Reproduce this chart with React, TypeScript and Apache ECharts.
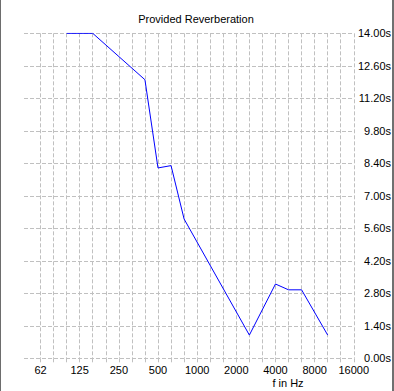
import React, { useEffect, useRef } from "react";
import * as echarts from "echarts";

const titleText = "Provided Reverberation";
const xAxisName = "f in Hz";
const tickLabels = ["62", "125", "250", "500", "1000", "2000", "4000", "8000", "16000"];
const freqs = [100, 160, 400, 500, 630, 800, 2500, 4000, 5000, 6300, 10000];
const reverbSeconds = [14.0, 14.0, 12.0, 8.2, 8.3, 6.0, 1.0, 3.2, 2.95, 2.95, 1.0];
const yMin = 0;
const yMax = 14;
const yStep = 1.4;

const FONT = "Liberation Sans";
const GRID_COLOR = "#c0c0c0";

export default function App() {
  const ref = useRef<HTMLDivElement>(null);
  useEffect(() => {
    if (!ref.current) return;
    const chart = echarts.init(ref.current, null, { renderer: "svg" });
    const data = freqs.map((f, i) => [Math.round(3 * Math.log2(f / 62.5)), reverbSeconds[i]]);
    chart.setOption({
      animation: false,
      backgroundColor: "#ffffff",
      textStyle: { fontFamily: FONT },
      grid: [
        { left: 40.5, right: 40.2, top: 33.3, bottom: 32.7 },
        { left: 24, right: 37, top: 33.3, bottom: 32.7 },
      ],
      xAxis: [
        {
          gridIndex: 0,
          type: "value",
          min: 0,
          max: 24,
          interval: 1,
          axisLine: { show: false },
          axisTick: { show: true, length: 6, lineStyle: { color: GRID_COLOR, type: [4, 2] } },
          splitLine: { show: true, lineStyle: { color: GRID_COLOR, type: [4, 2], width: 1 } },
          axisLabel: {
            show: true,
            showMinLabel: true,
            showMaxLabel: true,
            hideOverlap: false,
            formatter: (v: number) => (v % 3 === 0 ? tickLabels[v / 3] : ""),
            color: "#000",
            fontSize: 11,
            fontFamily: FONT,
            margin: 6,
          },
        },
        { gridIndex: 1, type: "value", show: false, min: 0, max: 1 },
      ],
      yAxis: [
        { gridIndex: 0, type: "value", min: yMin, max: yMax, show: false },
        {
          gridIndex: 1,
          type: "value",
          min: yMin,
          max: yMax,
          interval: yStep,
          position: "right",
          axisLine: { show: false },
          axisTick: { show: false },
          splitLine: { show: true, lineStyle: { color: GRID_COLOR, type: [4, 2], width: 1 } },
          axisLabel: {
            showMinLabel: true,
            showMaxLabel: true,
            formatter: (v: number) => v.toFixed(2) + "s",
            align: "right",
            margin: 37,
            color: "#000",
            fontSize: 11,
            fontFamily: FONT,
          },
        },
      ],
      series: [
        {
          type: "line",
          xAxisIndex: 0,
          yAxisIndex: 0,
          data,
          symbol: "none",
          showSymbol: false,
          lineStyle: { color: "#0000ff", width: 1 },
        },
      ],
      graphic: [
        {
          type: "text",
          x: 196,
          y: 19,
          style: {
            text: titleText,
            fill: "#000",
            font: `11px "${FONT}"`,
            textAlign: "center",
            textVerticalAlign: "middle",
          },
        },
        {
          type: "text",
          x: 288,
          y: 383,
          style: {
            text: xAxisName,
            fill: "#000",
            font: `11px "${FONT}"`,
            textAlign: "center",
            textVerticalAlign: "middle",
          },
        },
        { type: "rect", shape: { x: 0, y: 0, width: 1, height: 391 }, style: { fill: "#6d6d6d" } },
        { type: "rect", shape: { x: 392, y: 0, width: 2, height: 391 }, style: { fill: "#707070" } },
      ],
    });
    return () => chart.dispose();
  }, []);
  return (
    <div
      ref={ref}
      style={{ position: "absolute", left: 0, top: 0, width: 394, height: 391, background: "#fff" }}
    />
  );
}
